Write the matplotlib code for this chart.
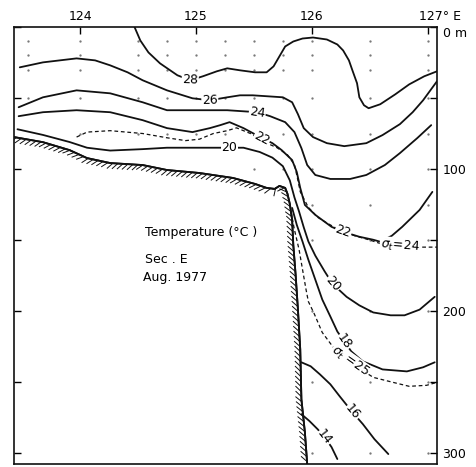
import matplotlib
matplotlib.use('Agg')
import matplotlib.pyplot as plt
import matplotlib.patheffects as pe
import numpy as np

# isotherms traced off section E (longitude E, depth m)
t28_lon = [124.47, 124.52, 124.59, 124.69, 124.84, 124.95, 125.06, 125.18, 125.27, 125.38, 125.51,
           125.61, 125.67, 125.72, 125.77, 125.84, 125.92, 126.01, 126.13, 126.22, 126.27, 126.32,
           126.35, 126.39, 126.41, 126.45, 126.49, 126.59, 126.72, 126.84, 126.97, 127.08]
t28_dep = [0, 9.5, 17.9, 25.6, 34, 37.5, 34.7, 31.2, 29.1, 30.5, 31.9,
           31.9, 27.7, 20.7, 13.7, 10.2, 8.1, 7.4, 8.8, 12.3, 16.5, 23.5,
           30.5, 39.6, 49.5, 55.1, 57.2, 54.4, 47.4, 40.4, 34.7, 31.2]

t26_lon = [123.48, 123.68, 123.97, 124.13, 124.26, 124.41, 124.54, 124.75, 124.97, 125.12, 125.27,
           125.38, 125.49, 125.62, 125.75, 125.83, 125.88, 125.93, 126.01, 126.13, 126.28, 126.47,
           126.61, 126.76, 126.87, 126.96, 127.08]
t26_dep = [28.4, 24.9, 22.1, 23.5, 27.0, 31.9, 37.5, 44.6, 50.2, 51.6, 49.5,
           48.1, 48.1, 48.8, 49.5, 53.0, 61.4, 71.2, 77.5, 81.8, 83.9, 81.8,
           76.1, 68.4, 60.0, 51.6, 38.2]

t24_lon = [123.47, 123.68, 123.97, 124.26, 124.54, 124.75, 124.97, 125.27, 125.53, 125.64, 125.77,
           125.85, 125.91, 125.96, 126.03, 126.16, 126.33, 126.47, 126.63, 126.76, 126.91, 127.03]
t24_dep = [56.5, 49.5, 44.6, 46.7, 53.0, 58.6, 58.6, 58.6, 60.0, 62.8, 67.0,
           74.0, 85.3, 97.2, 104.2, 107.0, 107.0, 104.2, 97.2, 88.8, 78.2, 69.1]

t22_lon = [123.47, 123.68, 123.97, 124.26, 124.54, 124.75, 124.97, 125.12, 125.21, 125.29, 125.41,
           125.57, 125.66, 125.74, 125.83, 125.87, 125.90, 125.94, 126.03, 126.17, 126.27, 126.41,
           126.53, 126.59, 126.69, 126.78, 126.93, 127.04]
t22_dep = [62.8, 60.0, 58.6, 60.0, 65.6, 71.2, 74.0, 71.2, 69.1, 67.0, 71.2,
           78.2, 81.8, 86.7, 93.7, 102.1, 113.3, 125.3, 132.3, 140.7, 144.2, 147.7,
           149.8, 151.2, 147.0, 140.7, 128.8, 116.1]

t20_lon = [123.46, 123.68, 123.91, 124.06, 124.26, 124.54, 124.75, 125.12, 125.29, 125.41, 125.55,
           125.66, 125.75, 125.81, 125.85, 125.89, 125.93, 125.97, 126.03, 126.11, 126.18, 126.30,
           126.41, 126.53, 126.68, 126.80, 126.93, 127.06]
t20_dep = [72, 76, 81, 85, 87, 86, 85, 85, 85, 85, 88,
           92, 98, 108, 120, 130, 141, 151, 161, 172, 181, 190,
           196, 201, 203, 203, 199, 190]

t18_lon = [125.83, 125.87, 125.92, 125.97, 126.03, 126.09, 126.16, 126.22, 126.28, 126.34, 126.44,
           126.61, 126.82, 126.96, 127.06]
t18_dep = [127.4, 139.3, 151.2, 163.9, 177.9, 191.9, 203.9, 214.4, 221.4, 228.4, 235.4,
           241.1, 242.5, 239.6, 236.1]

t16_lon = [125.91, 125.99, 126.07, 126.16, 126.24, 126.35, 126.44, 126.54, 126.66]
t16_dep = [236.1, 238.9, 244.6, 251.6, 260.0, 271.2, 279.6, 290.2, 300.7]

t14_lon = [125.91, 125.98, 126.05, 126.11, 126.17, 126.22]
t14_dep = [272.6, 277.5, 283.2, 288.8, 295.8, 304.2]

# density surfaces (dashed)
s24_lon = [123.97, 124.06, 124.26, 124.54, 124.75, 124.91, 125.03, 125.15, 125.27, 125.35, 125.47,
           125.59, 125.70, 125.79, 125.85, 125.88, 125.90, 125.97, 126.05, 126.13, 126.24, 126.37,
           126.50, 126.61, 126.76, 126.93, 127.08]
s24_dep = [77.5, 74, 73, 75, 78, 80, 79, 75, 73, 71, 75,
           81, 85, 90, 97, 108, 116, 127, 134, 138, 143, 147,
           150, 153, 154, 155, 155]

s25_lon = [125.82, 125.85, 125.89, 125.92, 125.95, 125.97, 126.02, 126.09, 126.18, 126.25, 126.33,
           126.41, 126.53, 126.70, 126.84, 126.99, 127.08]
s25_dep = [130.2, 142.8, 156.8, 170.9, 184.9, 193.3, 201.8, 215.1, 225.0, 231.2, 235.4,
           240.4, 246.7, 250.2, 253.0, 252.3, 250.2]

# sea floor
bot_lon = [123.43, 123.68, 123.91, 124.06, 124.26, 124.54, 124.75, 125.03, 125.32, 125.51, 125.61,
           125.68, 125.72, 125.77, 125.79, 125.81, 125.83, 125.84, 125.86, 125.88, 125.90, 125.91,
           125.94, 125.96]
bot_dep = [77.5, 81.1, 86.7, 92.3, 95.8, 97.2, 100.7, 102.8, 106.3, 110.5, 113.3,
           114.0, 111.9, 113.3, 117.5, 124.6, 135.8, 153.3, 174.4, 198.9, 227.0, 262.1,
           285.3, 307.7]

# hydrographic stations and sampling depths
stn_lon = [123.55, 124.0, 124.5, 124.75, 125.0, 125.25, 125.5, 125.75, 126.0, 126.5, 127.0]
stn_dep = [10, 20, 30, 50, 75, 100, 125, 150, 200, 250, 300]

lon_ticks = [124, 125, 126, 127]
lon_labels = ['124', '125', '126', '']
dep_ticks = [0, 100, 200, 300]
dep_labels = ['0 m', '100', '200', '300']

isotherms = [
    (t28_lon, t28_dep, '28', [5]),
    (t26_lon, t26_dep, '26', [9]),
    (t24_lon, t24_dep, '24', [8]),
    (t22_lon, t22_dep, '22', [11, 20]),
    (t20_lon, t20_dep, '20', [8, 20]),
    (t18_lon, t18_dep, '18', [8]),
    (t16_lon, t16_dep, '16', [5]),
    (t14_lon, t14_dep, '14', [3]),
]
isopycnals = [
    (s24_lon, s24_dep, r'$\sigma_t$=24', [24]),
    (s25_lon, s25_dep, r'$\sigma_t$ =25', [10]),
]


def inline_label(ax, lon, dep, i, text):
    a = ax.transData.transform((lon[i - 1], dep[i - 1]))
    b = ax.transData.transform((lon[i + 1], dep[i + 1]))
    ang = np.degrees(np.arctan2(b[1] - a[1], b[0] - a[0]))
    if ang > 90:
        ang -= 180
    if ang < -90:
        ang += 180
    ax.text(lon[i], dep[i], text, rotation=ang, rotation_mode='anchor',
            ha='center', va='center', fontsize=9, zorder=5,
            bbox=dict(boxstyle='square,pad=0.05', fc='white', ec='none'))


fig = plt.figure(figsize=(4.77, 4.67), dpi=100)
ax = fig.add_axes([14 / 477, 3 / 467, 423 / 477, 437 / 467])
ax.set_xlim(123.43, 127.08)
ax.set_ylim(307.7, 0)

ink = '#111111'

# station sample dots, only in the water column
floor = np.interp(stn_lon, bot_lon, bot_dep)
for lo, fl in zip(stn_lon, floor):
    d = [z for z in stn_dep if z < fl - 6]
    ax.plot([lo] * len(d), d, ls='none', marker='.', ms=1.3, color='0.45', zorder=1)

for lon, dep, lab, idx in isotherms:
    ax.plot(lon, dep, color=ink, lw=1.3, zorder=3, solid_capstyle='round',
            solid_joinstyle='round')
    for i in idx:
        inline_label(ax, lon, dep, i, lab)

for lon, dep, lab, idx in isopycnals:
    ax.plot(lon, dep, color=ink, lw=0.9, ls=(0, (3, 2.2)), zorder=3)
    for i in idx:
        inline_label(ax, lon, dep, i, lab)

ax.plot(bot_lon, bot_dep, color=ink, lw=1.3, zorder=4, solid_joinstyle='round',
        path_effects=[pe.withTickedStroke(angle=-135, spacing=3.6, length=1.5, linewidth=0.7),
                      pe.Normal()])

ax.text(0.31, 0.529, 'Temperature (°C )', transform=ax.transAxes, fontsize=9, va='center')
ax.text(0.31, 0.469, 'Sec . E', transform=ax.transAxes, fontsize=9, va='center')
ax.text(0.305, 0.426, 'Aug. 1977', transform=ax.transAxes, fontsize=9, va='center')

ax.xaxis.tick_top()
ax.set_xticks(lon_ticks)
ax.set_xticklabels(lon_labels)
ax.annotate('127° E', xy=(127, 1), xycoords=('data', 'axes fraction'),
            xytext=(-9, 4.2), textcoords='offset pixels', ha='left', va='bottom', fontsize=9)
ax.tick_params(axis='x', direction='in', length=5, width=1, pad=3, labelsize=9,
               top=True, bottom=False)

ax.set_yticks(dep_ticks)
ax.set_yticklabels(dep_labels)
ax.set_yticks([50, 150, 250], minor=True)
ax.tick_params(axis='y', which='both', direction='in', length=5, width=1, pad=4,
               left=True, right=True, labelleft=False, labelright=True, labelsize=9)
ax.get_yticklabels()[0].set_va('top')

for s in ax.spines.values():
    s.set_linewidth(1.2)
    s.set_color(ink)

fig.savefig('out.png', dpi=100)
